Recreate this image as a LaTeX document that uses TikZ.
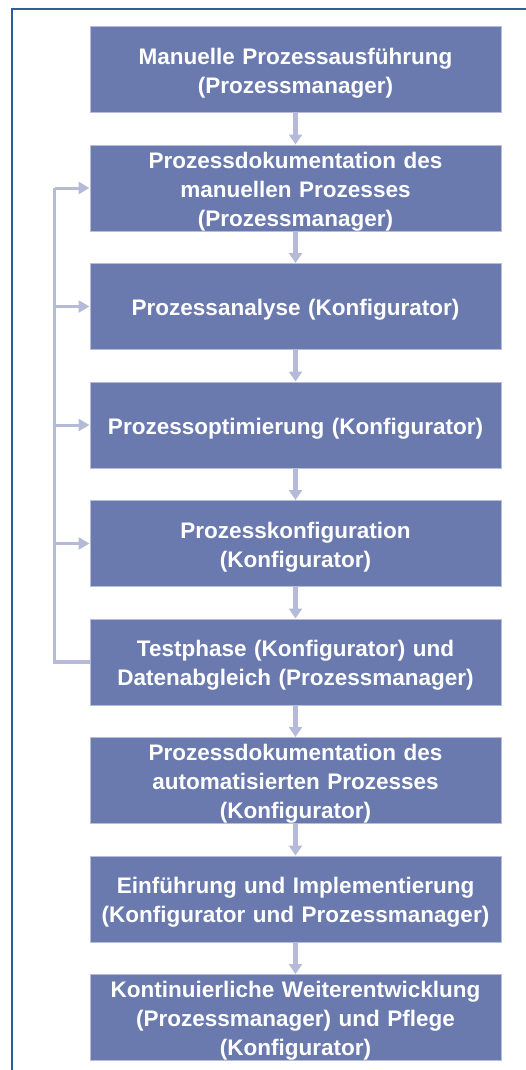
\documentclass[tikz,border=0pt]{standalone}
\usepackage{fontspec}
\setmainfont{Liberation Sans}
\usepackage{tikz}
\usetikzlibrary{arrows.meta,positioning}
\definecolor{stepfill}{HTML}{6A7AAE}
\definecolor{stepedge}{HTML}{B6BDDA}
\definecolor{flowgray}{HTML}{B4BAD8}
\definecolor{framblue}{HTML}{2B5E9C}
\tikzset{
  stepbox/.style={
    rectangle, draw=stepedge, fill=stepfill, line width=1pt,
    minimum width=411pt, minimum height=86pt,
    text width=400pt, align=center, text=white,
    font=\bfseries\fontsize{22.5}{29}\selectfont,
    execute at begin node={\rule{0pt}{23pt}},
    inner xsep=2pt, inner ysep=0pt
  },
  downarrow/.style={
    -{Triangle[length=10pt,width=13pt]}, line width=5pt, color=flowgray
  },
  backline/.style={line width=3.5pt, color=flowgray},
  backarrow/.style={
    -{Triangle[length=11pt,width=12pt]}, line width=3pt, color=flowgray
  },
}
\begin{document}
\begin{tikzpicture}[x=1pt, y=-1pt, node distance=31.5pt]
  \useasboundingbox (0,0) rectangle (526,1070);
  % Rahmen
  \draw[framblue, line width=1.5pt] (526,9) -- (12,9) -- (12,1070);

  \node[stepbox] (s1) at (295.5,69.5) {Manuelle Prozessausführung\\(Prozessmanager)};
  \node[stepbox, below=of s1] (s2) {Prozessdokumentation des\\manuellen Prozesses\\(Prozessmanager)};
  \node[stepbox, below=of s2] (s3) {Prozessanalyse (Konfigurator)};
  \node[stepbox, below=of s3] (s4) {Prozessoptimierung (Konfigurator)};
  \node[stepbox, below=of s4] (s5) {Prozesskonfiguration\\(Konfigurator)};
  \node[stepbox, below=of s5] (s6) {Testphase (Konfigurator) und\\Datenabgleich (Prozessmanager)};
  \node[stepbox, below=of s6] (s7) {Prozessdokumentation des\\automatisierten Prozesses\\(Konfigurator)};
  \node[stepbox, below=of s7] (s8) {Einführung und Implementierung\\(Konfigurator und Prozessmanager)};
  \node[stepbox, below=of s8] (s9) {Kontinuierliche Weiterentwicklung\\(Prozessmanager) und Pflege\\(Konfigurator)};

  \foreach \a/\b in {s1/s2, s2/s3, s3/s4, s4/s5, s5/s6, s6/s7, s7/s8, s8/s9}
    \draw[downarrow] (\a.south) -- (\b.north);

  % Rueckfuehrung
  \draw[backline] (s6.west) -- ++(-35,0) coordinate (fb) -- (fb |- s2.west);
  \foreach \t in {s2, s3, s4, s5}
    \draw[backarrow] (fb |- \t.west) -- (\t.west);
\end{tikzpicture}
\end{document}
